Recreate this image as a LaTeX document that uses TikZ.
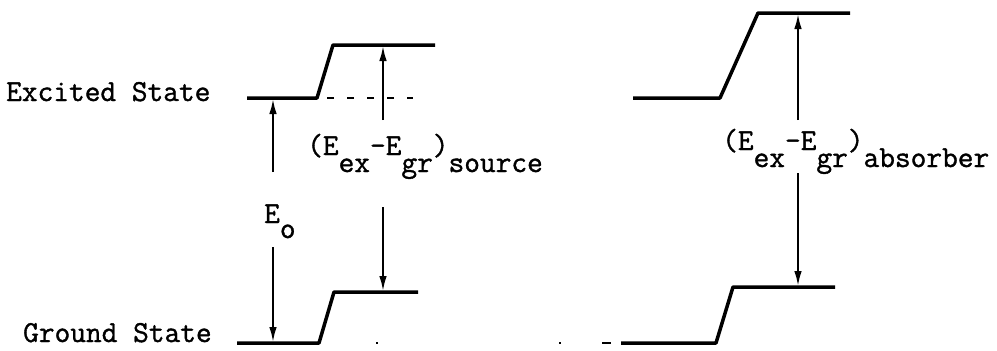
\documentclass[tikz,border=0pt]{standalone}
\usepackage{fontspec}
\newfontfamily\twfont{Latin Modern Mono}[FakeBold=1.2]
\usetikzlibrary{arrows.meta,positioning}

\newcommand{\tsub}[1]{\raisebox{-17pt}{#1}}

\begin{document}
\begin{tikzpicture}[x=1pt,y=-1pt,>={Latex[length=16pt,width=7.5pt]},
  lvl/.style={line width=3.5pt,line join=round},
  gap/.style={->,line width=2.5pt},
  txt/.style={font=\twfont\fontsize{30.5}{30.5}\selectfont,inner sep=0pt,anchor=base west}]
  \useasboundingbox (0,0) rectangle (997,351);
  % source levels
  \draw[lvl] (247,98) -- (317,98) coordinate (sKnee) -- (333,45) -- (435,45);
  \draw[lvl] (237,343) -- (319,343) coordinate (gKnee) -- (334,292) -- (418,292);
  \draw[line width=1.8pt,dash pattern=on 7pt off 13pt] (327,98) -- (413,98);
  \draw[line width=2.5pt,dash pattern=on 2pt off 181pt on 2pt off 41pt on 9pt] (376,343) -- (612,343);
  % absorber levels
  \draw[lvl] (633,98) -- (720,98) -- (758,13) -- (850,13);
  \draw[lvl] (621,343) -- (716,343) -- (733,287) -- (835,287);
  % arrow ends
  \coordinate (eoEx) at (273,98);
  \coordinate (eoGr) at (273,343);
  \coordinate (eoA) at (273,172);
  \coordinate (eoB) at (273,247);
  \coordinate (srcEx) at (383,45);
  \coordinate (srcGr) at (383,292);
  \coordinate (srcA) at (383,120);
  \coordinate (srcB) at (383,207);
  \coordinate (absEx) at (798,13);
  \coordinate (absGr) at (798,287);
  \coordinate (absA) at (798,120);
  \coordinate (absB) at (798,173);
  \draw[gap] (eoA) -- (eoEx);
  \draw[gap] (eoB) -- (eoGr);
  \draw[gap] (srcA) -- (srcEx);
  \draw[gap] (srcB) -- (srcGr);
  \draw[gap] (absA) -- (absEx);
  \draw[gap] (absB) -- (absGr);
  % labels
  \node[txt] (exlbl) at (6,101) {Excited State};
  \node[txt] (grlbl) at (23,342) {Ground State};
  \node[txt] (eolbl) at (264,223) {E\raisebox{-15pt}{o}};
  \node[txt] (srclbl) at (307,155) {(E\tsub{ex}-E\tsub{gr})\tsub{source}};
  \node[txt] (abslbl) at (722,150) {(E\tsub{ex}-E\tsub{gr})\tsub{absorber}};
\end{tikzpicture}
\end{document}
